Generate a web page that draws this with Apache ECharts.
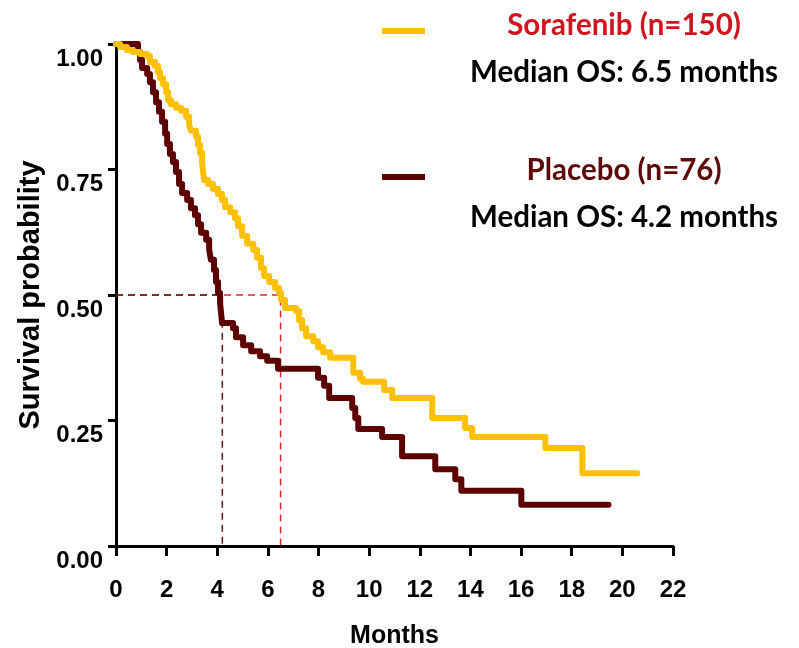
<!DOCTYPE html>
<html>
<head>
<meta charset="utf-8">
<script src="https://cdn.jsdelivr.net/npm/echarts@6/dist/echarts.min.js"></script>
<style>
  html, body { margin: 0; padding: 0; background: #fff; }
  #chart { width: 799px; height: 648px; }
</style>
</head>
<body>
<div id="chart"></div>
<script>
// Kaplan-Meier overall survival: step points [months, survival probability]
const sorafenibTime = [0, 0.16, 0.43, 0.67, 0.95, 1.23, 1.34, 1.54, 1.66, 1.74, 1.86, 1.98, 2.06, 2.17, 2.37, 2.57, 2.77, 2.89, 2.96, 3.16, 3.24, 3.32, 3.40, 3.44, 3.48, 3.64, 3.83, 4.03, 4.19, 4.31, 4.51, 4.70, 4.82, 4.98, 5.18, 5.42, 5.57, 5.73, 5.85, 6.05, 6.28, 6.44, 6.52, 6.68, 7.11, 7.23, 7.35, 7.51, 7.79, 7.98, 8.18, 8.46, 9.37, 9.64, 9.76, 10.59, 10.91, 12.49, 13.79, 14.07, 16.96, 18.42, 20.59];
const sorafenibSurv = [1.000, 0.994, 0.988, 0.984, 0.980, 0.976, 0.964, 0.956, 0.944, 0.932, 0.920, 0.904, 0.888, 0.880, 0.873, 0.867, 0.855, 0.839, 0.827, 0.815, 0.799, 0.783, 0.763, 0.745, 0.729, 0.721, 0.711, 0.701, 0.689, 0.675, 0.665, 0.653, 0.637, 0.618, 0.602, 0.590, 0.574, 0.554, 0.538, 0.526, 0.514, 0.504, 0.490, 0.474, 0.468, 0.450, 0.434, 0.418, 0.408, 0.396, 0.386, 0.375, 0.345, 0.333, 0.327, 0.311, 0.295, 0.255, 0.235, 0.217, 0.195, 0.145, 0.145];

const placeboTime = [0, 0.87, 0.95, 1.03, 1.23, 1.34, 1.46, 1.58, 1.70, 1.82, 1.94, 2.02, 2.13, 2.25, 2.37, 2.49, 2.61, 2.81, 2.96, 3.12, 3.24, 3.36, 3.56, 3.68, 3.75, 3.87, 3.95, 4.03, 4.11, 4.15, 4.19, 4.62, 4.74, 5.02, 5.34, 5.69, 5.97, 6.40, 7.98, 8.22, 8.42, 9.33, 9.45, 9.57, 10.51, 11.30, 12.61, 13.40, 13.64, 16.01, 19.45];
const placeboSurv = [1.000, 0.984, 0.968, 0.952, 0.940, 0.924, 0.904, 0.884, 0.865, 0.845, 0.821, 0.801, 0.781, 0.765, 0.745, 0.721, 0.703, 0.689, 0.673, 0.659, 0.641, 0.624, 0.610, 0.590, 0.570, 0.550, 0.526, 0.504, 0.484, 0.464, 0.444, 0.434, 0.416, 0.400, 0.388, 0.378, 0.369, 0.353, 0.335, 0.319, 0.295, 0.275, 0.255, 0.233, 0.217, 0.179, 0.153, 0.133, 0.110, 0.082, 0.082];

// Arm labels, sizes and median overall survival (months)
const armNames = ['Sorafenib', 'Placebo'];
const armCounts = [150, 76];
const armMedians = [6.5, 4.2];
const medianLevel = 0.5;

// Axis ticks
const xTicks = [0, 2, 4, 6, 8, 10, 12, 14, 16, 18, 20, 22];
const yTicks = [0, 0.25, 0.5, 0.75, 1];

const curveColors = ['#FFC000', '#5C0000'];
const guideColors = ['#E0242C', '#6A1414'];
const titleColors = ['#CF161E', '#5E0A0A'];

const zip = (a, b) => a.map((v, i) => [v, b[i]]);

const chart = echarts.init(document.getElementById('chart'), null, { renderer: 'canvas' });

const guideSeries = (i) => ({
  type: 'line',
  name: armNames[i] + ' median',
  data: [[xTicks[0], medianLevel], [armMedians[i], medianLevel], [armMedians[i], yTicks[0]]],
  showSymbol: false,
  silent: true,
  z: 1,
  lineStyle: { color: guideColors[i], width: 1.5, type: [7, 5] }
});

const curveSeries = (i, t, s) => ({
  type: 'line',
  name: armNames[i],
  data: zip(t, s),
  step: 'end',
  showSymbol: false,
  clip: false,
  z: 3 - i,
  lineStyle: { color: curveColors[i], width: 6, cap: 'round', join: 'round' }
});

const axisFont = '"Liberation Sans", Arial, sans-serif';
const legendFont = 'Lato, "Open Sans", sans-serif';

const legendGraphic = [];
const legendRows = [{ lineY: 31, titleY: 25, medY: 72 }, { lineY: 177, titleY: 170, medY: 217 }];
legendRows.forEach((r, i) => {
  legendGraphic.push({
    type: 'line',
    shape: { x1: 382, y1: r.lineY, x2: 425, y2: r.lineY },
    style: { stroke: curveColors[i], lineWidth: 6 }
  });
  legendGraphic.push({
    type: 'text',
    x: 624, y: r.titleY,
    style: {
      text: armNames[i] + ' (n=' + armCounts[i] + ')',
      fill: titleColors[i],
      font: 'bold 29.5px ' + legendFont,
      align: 'center', verticalAlign: 'middle'
    }
  });
  legendGraphic.push({
    type: 'text',
    x: 624, y: r.medY,
    style: {
      text: 'Median OS: ' + armMedians[i].toFixed(1) + ' months',
      fill: '#000',
      font: 'bold 29.5px ' + legendFont,
      align: 'center', verticalAlign: 'middle'
    }
  });
});

chart.setOption({
  animation: false,
  backgroundColor: '#fff',
  grid: { left: 116, right: 126, top: 44, bottom: 102, containLabel: false, outerBoundsMode: 'none' },
  xAxis: {
    type: 'value',
    min: xTicks[0], max: xTicks[xTicks.length - 1], interval: 2,
    name: 'Months',
    nameLocation: 'middle',
    nameGap: 78,
    nameTextStyle: { fontFamily: axisFont, fontWeight: 'bold', fontSize: 25, color: '#000' },
    axisLine: { show: true, onZero: false, lineStyle: { color: '#000', width: 3 } },
    axisTick: { show: true, inside: false, length: 10, lineStyle: { color: '#000', width: 3 } },
    axisLabel: { margin: 32, fontFamily: axisFont, fontWeight: 'bold', fontSize: 24, color: '#000' },
    splitLine: { show: false }
  },
  yAxis: {
    type: 'value',
    min: yTicks[0], max: yTicks[yTicks.length - 1], interval: 0.25,
    name: 'Survival probability',
    nameLocation: 'middle',
    nameGap: 64,
    nameTextStyle: { fontFamily: axisFont, fontWeight: 'bold', fontSize: 29, color: '#000' },
    axisLine: { show: true, onZero: false, lineStyle: { color: '#000', width: 3 } },
    axisTick: { show: true, inside: false, length: 8, lineStyle: { color: '#000', width: 3 } },
    axisLabel: {
      margin: 13,
      fontFamily: axisFont, fontWeight: 'bold', fontSize: 24, color: '#000',
      lineHeight: 30,
      formatter: (v) => '\n' + v.toFixed(2)
    },
    splitLine: { show: false }
  },
  series: [
    guideSeries(0),
    guideSeries(1),
    curveSeries(0, sorafenibTime, sorafenibSurv),
    curveSeries(1, placeboTime, placeboSurv)
  ],
  graphic: legendGraphic
});
</script>
</body>
</html>
